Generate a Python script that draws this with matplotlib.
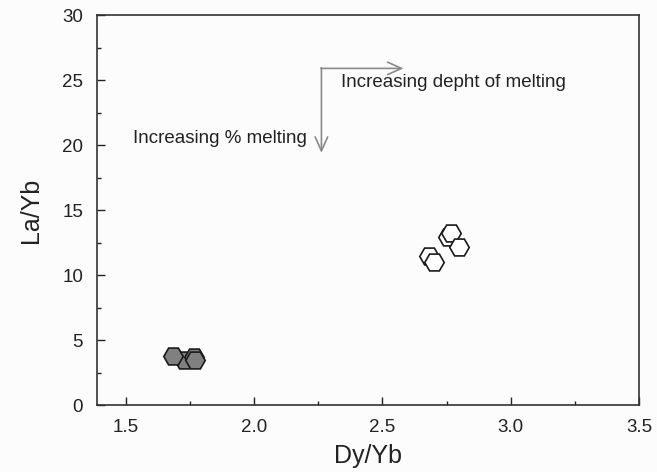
import matplotlib
matplotlib.use("Agg")
import matplotlib.pyplot as plt
from matplotlib.ticker import MultipleLocator

plt.rcParams['font.family'] = ['Liberation Sans', 'DejaVu Sans']

# Data
gray_dy = [1.727, 1.766, 1.684, 1.770]
gray_la = [3.46, 3.69, 3.77, 3.46]
white_dy = [2.680, 2.700, 2.754, 2.766, 2.797]
white_la = [11.5, 11.0, 12.9, 13.2, 12.15]

x_ticks = [1.5, 2.0, 2.5, 3.0, 3.5]
y_ticks = [0, 5, 10, 15, 20, 25, 30]

fig = plt.figure(figsize=(6.57, 4.72), dpi=100)
fig.patch.set_facecolor('#fcfcfc')
ax = fig.add_axes([0.1476, 0.1419, 0.8250, 0.8261])
ax.set_facecolor('#fcfcfc')

ax.plot(gray_dy, gray_la, linestyle='none', marker='H', markersize=14,
        markerfacecolor='#808080', markeredgecolor='#1a1a1a', markeredgewidth=1.2)
ax.plot(white_dy, white_la, linestyle='none', marker='H', markersize=14,
        markerfacecolor='white', markeredgecolor='#1a1a1a', markeredgewidth=1.2)

# arrows
acol = '#8a8a8a'
ax.annotate('', xy=(2.582, 25.9), xytext=(2.260, 25.9),
            arrowprops=dict(arrowstyle='->,head_length=1.0,head_width=0.45',
                            color=acol, lw=1.2, shrinkA=0, shrinkB=0))
ax.annotate('', xy=(2.262, 19.4), xytext=(2.262, 25.95),
            arrowprops=dict(arrowstyle='->,head_length=1.0,head_width=0.45',
                            color=acol, lw=1.2, shrinkA=0, shrinkB=0))

ax.text(2.340, 24.8, 'Increasing depht of melting', fontsize=13.5,
        va='center', ha='left', color='#222222')
ax.text(1.527, 20.5, 'Increasing % melting', fontsize=13.5,
        va='center', ha='left', color='#222222')

ax.set_xlim(1.387, 3.5)
ax.set_ylim(0, 30)
ax.set_xticks(x_ticks)
ax.set_xticklabels([f'{v:.1f}' for v in x_ticks])
ax.set_yticks(y_ticks)
ax.xaxis.set_minor_locator(MultipleLocator(0.25))
ax.yaxis.set_minor_locator(MultipleLocator(2.5))
ax.tick_params(which='both', direction='in', top=False, right=False,
               labelsize=13.5, colors='#222222')
ax.tick_params(which='major', length=6, width=1)
ax.tick_params(which='minor', length=3, width=1)
ax.tick_params(axis='x', pad=10)
ax.tick_params(axis='y', pad=10)
for s in ax.spines.values():
    s.set_color('#333333')
    s.set_linewidth(1.2)

ax.set_xlabel('Dy/Yb', fontsize=18, color='#222222', labelpad=6)
ax.set_ylabel('La/Yb', fontsize=18, color='#222222', labelpad=14)

fig.savefig('out.png', dpi=100, facecolor=fig.get_facecolor())
